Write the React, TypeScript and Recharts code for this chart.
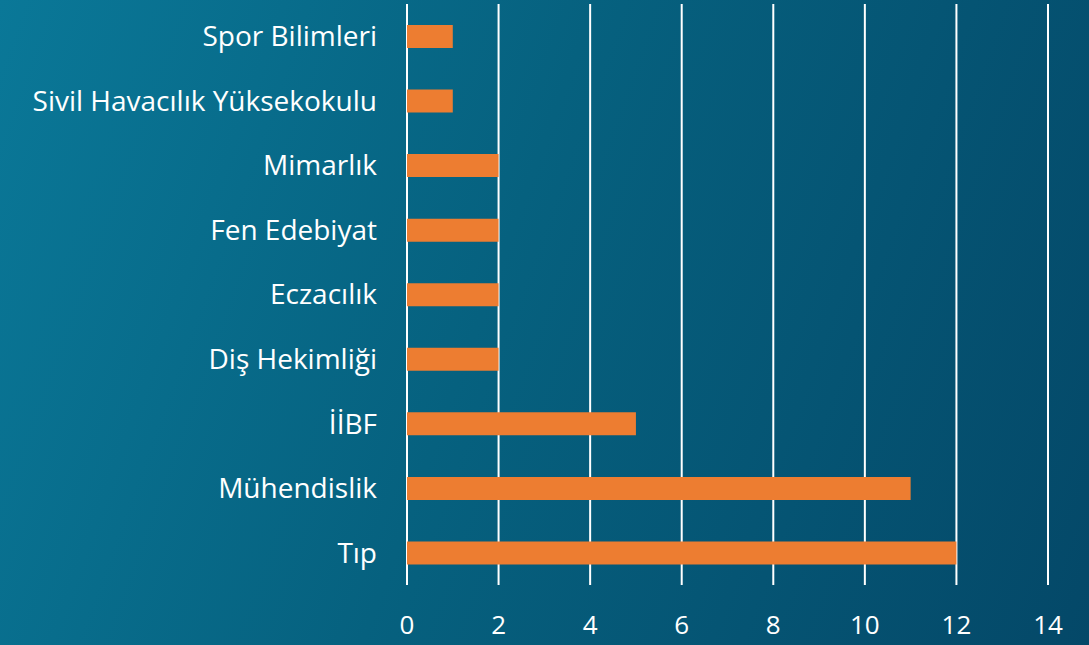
import React from 'react';
import { BarChart, Bar, XAxis, YAxis, CartesianGrid } from 'recharts';

const FACULTIES = [
    'Spor Bilimleri',
    'Sivil Havacılık Yüksekokulu',
    'Mimarlık',
    'Fen Edebiyat',
    'Eczacılık',
    'Diş Hekimliği',
    'İİBF',
    'Mühendislik',
    'Tıp',
];
const COUNTS = [1, 1, 2, 2, 2, 2, 5, 11, 12];
const X_TICKS = [0, 2, 4, 6, 8, 10, 12, 14];

const data = FACULTIES.map((name, i) => ({ name, value: COUNTS[i] }));

const FONT = '"Open Sans", Lato, sans-serif';

const App: React.FC = () => {
    return (
        <div
            style={{
                position: 'absolute',
                top: 0,
                left: 0,
                width: 1089,
                height: 645,
                background: 'linear-gradient(110deg, #0a7898 0%, #06617f 45%, #044868 100%)',
                fontFamily: FONT,
            }}
        >
            <BarChart
                width={1089}
                height={645}
                data={data}
                layout="vertical"
                margin={{ top: 4, right: 41, left: 0, bottom: 0 }}
            >
                <CartesianGrid horizontal={false} stroke="#ffffff" strokeWidth={2} />
                <XAxis
                    type="number"
                    domain={[0, 14]}
                    ticks={X_TICKS}
                    axisLine={false}
                    tickLine={false}
                    tickMargin={25}
                    height={60}
                    tick={{ fill: '#ffffff', fontSize: 26, fontFamily: FONT }}
                />
                <YAxis
                    type="category"
                    dataKey="name"
                    width={407}
                    axisLine={false}
                    tickLine={false}
                    tickSize={0}
                    tickMargin={30}
                    interval={0}
                    tick={{ fill: '#ffffff', fontSize: 28, fontFamily: FONT }}
                />
                <Bar dataKey="value" fill="#ED7D31" barSize={23} isAnimationActive={false} />
            </BarChart>
        </div>
    );
};

export default App;
